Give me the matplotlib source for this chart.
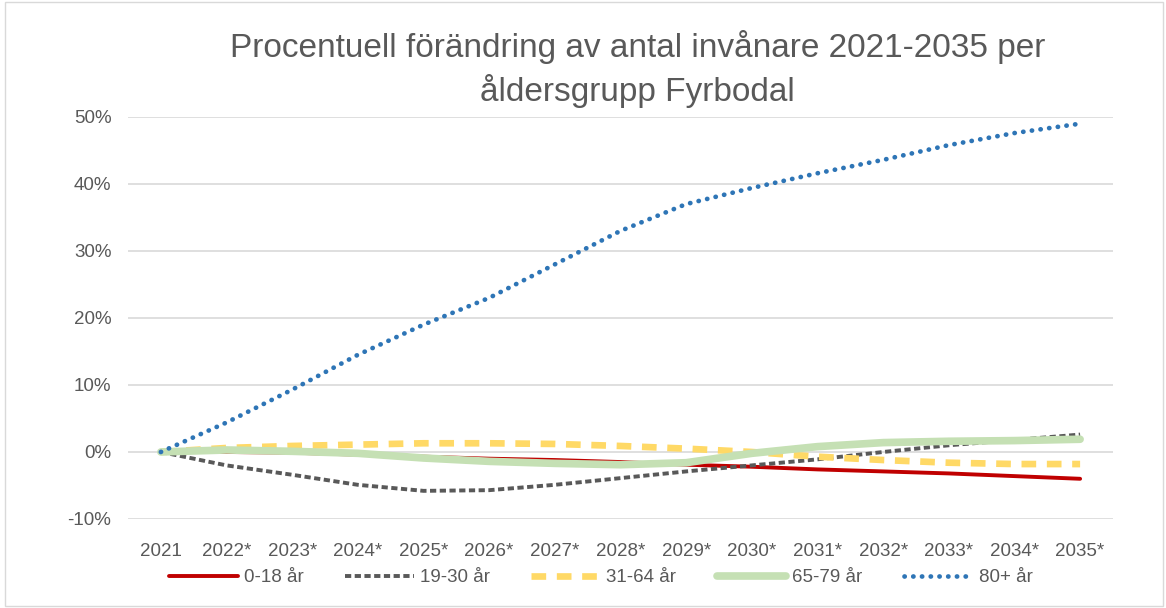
import numpy as np
import matplotlib.pyplot as plt
from matplotlib.patches import Rectangle
from matplotlib.ticker import FuncFormatter

# ======================================================
# DATA
# ======================================================

years = ["2021", "2022*", "2023*", "2024*", "2025*", "2026*", "2027*", "2028*",
         "2029*", "2030*", "2031*", "2032*", "2033*", "2034*", "2035*"]

age_0_18 = [0, 0.0, -0.1, -0.4, -0.7, -1.0, -1.2, -1.5, -1.9, -2.2, -2.6, -2.9, -3.2, -3.6, -4.0]
age_19_30 = [0, -2.0, -3.4, -4.9, -5.8, -5.7, -4.9, -3.9, -2.9, -2.0, -1.1, 0.0, 1.0, 1.8, 2.6]
age_31_64 = [0, 0.6, 0.9, 1.1, 1.3, 1.3, 1.2, 0.9, 0.5, 0.0, -0.7, -1.2, -1.6, -1.8, -1.8]
age_65_79 = [0, 0.3, 0.1, -0.2, -0.9, -1.4, -1.7, -1.9, -1.6, -0.2, 0.8, 1.4, 1.6, 1.7, 1.9]
age_80 = [0, 4.4, 9.3, 14.5, 19.0, 23.0, 28.0, 33.0, 37.0, 39.4, 41.6, 43.6, 45.8, 47.6, 49.0]

labels = ["0-18 år", "19-30 år", "31-64 år", "65-79 år", "80+ år"]

# ======================================================
# GRAPH
# ======================================================

plt.rcParams["font.family"] = ["Liberation Sans", "DejaVu Sans"]
txt = "#595959"

fig = plt.figure(figsize=(11.66, 6.08), dpi=100)
ax = fig.add_axes([0.1098, 0.1464, 0.8447, 0.6612])

x = np.arange(len(years))

ax.plot(x, age_0_18, color="#C00000", lw=2.8, label=labels[0], solid_capstyle="round")
ax.plot(x, age_19_30, color="#595959", lw=2.8, ls=(0, (1.6, 0.9)), label=labels[1])
ax.plot(x, age_31_64, color="#FFD966", lw=4.8, ls=(0, (2.2, 1.6)), label=labels[2])
ax.plot(x, age_65_79, color="#C5E0B4", lw=5.5, label=labels[3], solid_capstyle="round")
ax.plot(x, age_80, color="#2E75B6", lw=3.4, ls=(0, (0.05, 1.8)), dash_capstyle="round", label=labels[4])

ax.set_xlim(-0.5, len(years) - 0.5)
ax.set_ylim(-10, 50)
ax.set_yticks(range(-10, 51, 10))
ax.yaxis.set_major_formatter(FuncFormatter(lambda v, p: f"{v:.0f}%"))
ax.set_xticks(x)
ax.set_xticklabels(years)

ax.grid(axis="y", color="#D9D9D9", lw=1.2)
ax.set_axisbelow(True)
for s in ax.spines.values():
    s.set_visible(False)
ax.tick_params(length=0, labelsize=13.5, colors=txt, pad=12)
ax.tick_params(axis="x", pad=17)

fig.text(0.547, 0.922, "Procentuell förändring av antal invånare 2021-2035 per",
         ha="center", va="center", fontsize=24, color=txt)
fig.text(0.547, 0.851, "åldersgrupp Fyrbodal",
         ha="center", va="center", fontsize=24, color=txt)

fig.legend(loc="center", bbox_to_anchor=(0.515, 0.05), ncol=5, frameon=False,
           fontsize=13.5, labelcolor=txt, handlelength=3.7, columnspacing=2.2,
           handletextpad=0.3)

fig.patches.append(Rectangle((0.004, 0.003), 0.993, 0.994, transform=fig.transFigure,
                             fill=False, edgecolor="#D9D9D9", lw=1))

plt.savefig("out.png", dpi=100)
